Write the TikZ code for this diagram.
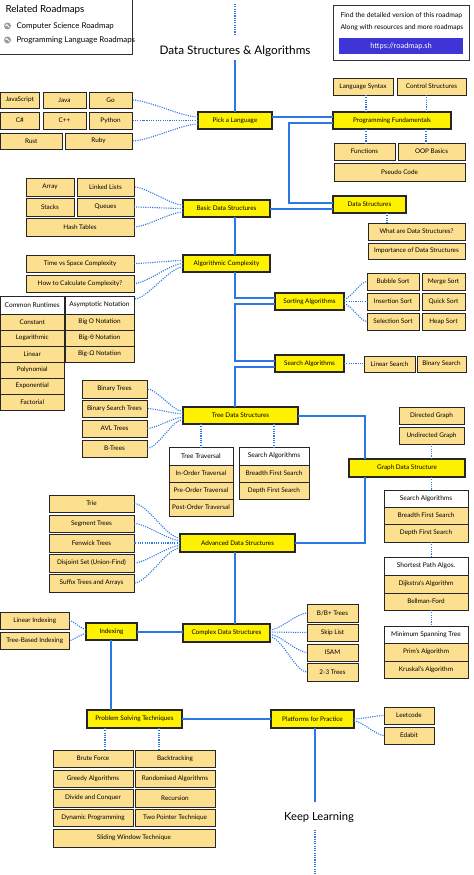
\documentclass[tikz,border=0pt]{standalone}
\usepackage{fontspec}
\setmainfont{Lato}
\definecolor{topicy}{HTML}{FFF200}
\definecolor{leafy}{HTML}{FDE08F}
\definecolor{lineb}{HTML}{2B78E4}
\definecolor{btnc}{HTML}{3F34D6}
\definecolor{iconc}{HTML}{9A9A9A}
\tikzset{
  base/.style={draw=black!85, line width=0.9pt, inner sep=0pt, outer sep=0pt, font=\fontsize{6.4}{7}\selectfont, align=center},
  topic/.style={base, fill=topicy, line width=1.1pt},
  leaf/.style={base, fill=leafy},
  ghead/.style={base, fill=white, font=\fontsize{6.6}{7.5}\selectfont},
  spine/.style={color=lineb, draw=lineb, line width=2bp},
  dotcon/.style={draw=lineb, line width=1.1pt, dash pattern=on 1.1pt off 1.2pt},
  curvy/.style={out=180, in=0, looseness=0.6},
  panel/.style={draw=black!80, line width=1pt, fill=white},
}
\newcommand\mybox[7]{\node[#1, minimum width={((#5)-(#3))*1bp}, minimum height={((#6)-(#4))*1bp}] (#2) at ({((#3)+(#5))/2},{((#4)+(#6))/2}) {#7};}
\begin{document}
\begin{tikzpicture}[x=1bp,y=-1bp]
\fill[white] (0,0) rectangle (474,875);
\useasboundingbox (0,0) rectangle (474,875);

% helper coordinates
\coordinate (sx) at (235,0);
\coordinate (gx) at (365,0);
\coordinate (ix) at (111,0);
\coordinate (kx) at (315,0);
\coordinate (dsx) at (387,0);
\coordinate (px1) at (105,0);
\coordinate (px2) at (159,0);
\coordinate (t1) at (235,4);
\coordinate (t2) at (235,36);
\coordinate (kbot) at (315,875);
\coordinate (bend1) at (289,0);
\coordinate (ty) at (0,416);
\coordinate (cy) at (0,632);

% ---------- panels ----------
\draw[panel] (-1,-1) rectangle (132,54);
\node[anchor=west, font=\fontsize{9.8}{11}\selectfont] (rel) at (2,10) {Related Roadmaps};
\node[circle, fill=iconc, minimum size=7pt, inner sep=0pt] (ic1) at (7.5,26) {};
\draw[white, line width=0.8pt] ([shift={(-2,0)}]ic1.center) -- ([shift={(-0.6,-1.4)}]ic1.center) -- ([shift={(2,1.5)}]ic1.center);
\node[anchor=west, font=\fontsize{7.9}{9}\selectfont] (rl1) at (13,26) {Computer Science Roadmap};
\node[circle, fill=iconc, minimum size=7pt, inner sep=0pt] (ic2) at (7.5,40) {};
\draw[white, line width=0.8pt] ([shift={(-2,0)}]ic2.center) -- ([shift={(-0.6,-1.4)}]ic2.center) -- ([shift={(2,1.5)}]ic2.center);
\node[anchor=west, font=\fontsize{7.9}{9}\selectfont] (rl2) at (13,40) {Programming Language Roadmaps};

\draw[panel] (333,5) rectangle (469,60);
\node[anchor=west, font=\fontsize{6.8}{8}\selectfont] (inf1) at (337,16) {Find the detailed version of this roadmap};
\node[anchor=west, font=\fontsize{6.8}{8}\selectfont] (inf2) at (337,28) {Along with resources and more roadmaps};
\mybox{base, fill=btnc, draw=none, text=white, font=\fontsize{7.5}{8}\selectfont}{btn}{339}{38}{463}{54}{https://roadmap.sh}

% ---------- titles ----------
\node[font=\fontsize{11.8}{13}\selectfont] (title) at (235,51) {Data Structures \& Algorithms};
\node[font=\fontsize{11.2}{13}\selectfont] (kl) at (319,817) {Keep Learning};

% ---------- topics ----------
\mybox{topic}{pick}{198}{112}{272}{129}{Pick a Language}
\mybox{topic}{pf}{333}{112}{451}{129}{Programming Fundamentals}
\mybox{topic}{ds}{333}{196}{406}{213}{Data Structures}
\mybox{topic}{bds}{183}{200}{270}{217}{Basic Data Structures}
\mybox{topic}{ac}{183}{255}{270}{272}{Algorithmic Complexity}
\mybox{topic}{sort}{275}{293}{344}{310}{Sorting Algorithms}
\mybox{topic}{srch}{275}{355}{344}{372}{Search Algorithms}
\mybox{topic}{tree}{183}{407}{298}{424}{Tree Data Structures}
\mybox{topic}{graph}{349}{459}{465}{477}{Graph Data Structure}
\mybox{topic}{adv}{180}{534}{295}{552}{Advanced Data Structures}
\mybox{topic}{cds}{183}{624}{270}{642}{Complex Data Structures}
\mybox{topic}{idx}{86}{623}{137}{640}{Indexing}
\mybox{topic}{pst}{87}{710}{182}{728}{Problem Solving Techniques}
\mybox{topic}{plat}{271}{710}{354}{728}{Platforms for Practice}

% ---------- spine ----------
\draw[dotcon] (t1) -- (t2);
\draw[spine] (title.south -| sx) -- (pick.north -| sx);
\draw[spine] ([yshift=4bp]pick.east) -- ([yshift=4bp]pick.east -| pf.west);
\draw[spine] ([yshift=-2bp]pf.west) -| ([yshift=2bp]ds.west -| bend1) -- ([yshift=2bp]ds.west);
\draw[spine] ([yshift=-4bp]ds.west) -- ([yshift=-4bp]ds.west -| bds.east);
\draw[spine] (bds.south -| sx) -- (ac.north -| sx);
\draw[spine] (ac.south -| sx) |- ([yshift=3.5bp]sort.west);
\draw[spine] ([yshift=-2.5bp]sort.west) -| ([yshift=2.5bp]srch.west -| sx) -- ([yshift=2.5bp]srch.west);
\draw[spine] ([yshift=-3.5bp]srch.west) -| (tree.north -| sx);
\draw[spine] (tree.east |- ty) -| (graph.north -| gx);
\draw[spine] (graph.south -| gx) |- (adv.east);
\draw[spine] (adv.south -| sx) -- (cds.north -| sx);
\draw[spine] (idx.east |- cy) -- (cds.west |- cy);
\draw[spine] (idx.south -| ix) -- (pst.north -| ix);
\draw[spine] (pst.east) -- (pst.east -| plat.west);
\draw[spine] (plat.south -| kx) -- ([yshift=6bp]kl.north -| kx);
\draw[dotcon] ([yshift=-4bp]kl.south -| kx) -- (kbot);

% ---------- languages ----------
\mybox{leaf}{js}{0.5}{92}{39}{108}{JavaScript}
\mybox{leaf}{java}{43}{92}{86}{108}{Java}
\mybox{leaf}{go}{89}{92}{132}{108}{Go}
\mybox{leaf}{csharp}{0.5}{112}{39}{129}{C\#}
\mybox{leaf}{cpp}{43}{112}{86}{129}{C++}
\mybox{leaf}{py}{89}{112}{132}{129}{Python}
\mybox{leaf}{rust}{0.5}{133}{62}{149}{Rust}
\mybox{leaf}{ruby}{65}{133}{132}{149}{Ruby}
\draw[dotcon] ([yshift=3.5bp]pick.west) to[curvy] (go.east);
\draw[dotcon] (pick.west) to[curvy] (py.east);
\draw[dotcon] ([yshift=-3.5bp]pick.west) to[curvy] (ruby.east);

% ---------- programming fundamentals ----------
\mybox{leaf}{ls}{333}{78}{393}{95}{Language Syntax}
\mybox{leaf}{cs}{397}{78}{466}{95}{Control Structures}
\mybox{leaf}{fn}{334}{143}{395}{160}{Functions}
\mybox{leaf}{oop}{398}{143}{465}{160}{OOP Basics}
\mybox{leaf}{pseudo}{334}{163}{465}{181}{Pseudo Code}
\draw[dotcon] ([xshift=3bp]ls.south) -- ([xshift=3bp]ls.south |- pf.north);
\draw[dotcon] ([xshift=-5bp]cs.south) -- ([xshift=-5bp]cs.south |- pf.north);
\draw[dotcon] ([xshift=1.5bp]fn.north |- pf.south) -- ([xshift=1.5bp]fn.north);
\draw[dotcon] ([xshift=-5.5bp]oop.north |- pf.south) -- ([xshift=-5.5bp]oop.north);

% ---------- data structures ----------
\mybox{leaf}{what}{368}{223}{465}{240}{What are Data Structures?}
\mybox{leaf}{imp}{368}{243}{465}{259}{Importance of Data Structures}
\draw[dotcon] (ds.south -| dsx) -- (what.north -| dsx);

% ---------- basic data structures ----------
\mybox{leaf}{array}{26}{178}{74}{196}{Array}
\mybox{leaf}{ll}{77}{178}{134}{196}{Linked Lists}
\mybox{leaf}{stacks}{26}{198}{74}{216}{Stacks}
\mybox{leaf}{queues}{77}{198}{134}{216}{Queues}
\mybox{leaf}{hash}{26}{218}{134}{236}{Hash Tables}
\draw[dotcon] ([yshift=3.5bp]bds.west) to[curvy] (ll.east);
\draw[dotcon] (bds.west) to[curvy] (queues.east);
\draw[dotcon] ([yshift=-3.5bp]bds.west) to[curvy] (hash.east);

% ---------- algorithmic complexity ----------
\mybox{leaf}{tvs}{26}{255}{134}{272}{Time vs Space Complexity}
\mybox{leaf}{calc}{26}{275}{134}{292}{How to Calculate Complexity?}
\mybox{ghead}{crh}{0.5}{296}{64}{314}{Common Runtimes}
\mybox{leaf}{cr1}{0.5}{314}{64}{330}{Constant}
\mybox{leaf}{cr2}{0.5}{330}{64}{346}{Logarithmic}
\mybox{leaf}{cr3}{0.5}{346}{64}{362}{Linear}
\mybox{leaf}{cr4}{0.5}{362}{64}{378}{Polynomial}
\mybox{leaf}{cr5}{0.5}{378}{64}{394}{Exponential}
\mybox{leaf}{cr6}{0.5}{394}{64}{410}{Factorial}
\mybox{ghead}{asyh}{65}{296}{134}{314}{Asymptotic Notation}
\mybox{leaf}{as1}{65}{314}{134}{330}{Big O Notation}
\mybox{leaf}{as2}{65}{330}{134}{346}{Big-θ Notation}
\mybox{leaf}{as3}{65}{346}{134}{362}{Big-Ω Notation}
\draw[dotcon] ([yshift=3bp]ac.west) to[curvy] (tvs.east);
\draw[dotcon] (ac.west) to[curvy] (calc.east);
\draw[dotcon] ([yshift=-3.5bp]ac.west) to[curvy] ([yshift=-3bp]asyh.north east);

% ---------- sorting ----------
\mybox{leaf}{bub}{367}{273}{419}{290}{Bubble Sort}
\mybox{leaf}{mer}{422}{273}{465}{290}{Merge Sort}
\mybox{leaf}{ins}{367}{293}{419}{310}{Insertion Sort}
\mybox{leaf}{qui}{422}{293}{465}{310}{Quick Sort}
\mybox{leaf}{sel}{367}{313}{419}{330}{Selection Sort}
\mybox{leaf}{hea}{422}{313}{465}{330}{Heap Sort}
\draw[dotcon] ([yshift=2.5bp]sort.east) to[out=0,in=180,looseness=0.6] (bub.west);
\draw[dotcon] (sort.east) -- (ins.west);
\draw[dotcon] ([yshift=-2.5bp]sort.east) to[out=0,in=180,looseness=0.6] (sel.west);

% ---------- searching ----------
\mybox{leaf}{lin}{364}{356}{415}{372}{Linear Search}
\mybox{leaf}{bin}{417}{356}{466}{372}{Binary Search}
\draw[dotcon] (srch.east) -- (srch.east -| lin.west);

% ---------- trees ----------
\mybox{leaf}{bt}{82}{380}{147}{398}{Binary Trees}
\mybox{leaf}{bst}{82}{400}{147}{417}{Binary Search Trees}
\mybox{leaf}{avl}{82}{420}{147}{437}{AVL Trees}
\mybox{leaf}{btr}{82}{440}{147}{457}{B-Trees}
\draw[dotcon] ([yshift=4bp]tree.west) to[curvy] (bt.east);
\draw[dotcon] ([yshift=1.5bp]tree.west) to[curvy] (bst.east);
\draw[dotcon] ([yshift=-1.5bp]tree.west) to[curvy] (avl.east);
\draw[dotcon] ([yshift=-4bp]tree.west) to[curvy] (btr.east);
\mybox{ghead}{tth}{169}{447}{233}{465}{Tree Traversal}
\mybox{leaf}{tt1}{169}{465}{233}{482}{In-Order Traversal}
\mybox{leaf}{tt2}{169}{482}{233}{499}{Pre-Order Traversal}
\mybox{leaf}{tt3}{169}{499}{233}{516}{Post-Order Traversal}
\mybox{ghead}{tsh}{239}{447}{309}{465}{Search Algorithms}
\mybox{leaf}{ts1}{239}{465}{309}{482}{Breadth First Search}
\mybox{leaf}{ts2}{239}{482}{309}{499}{Depth First Search}
\draw[dotcon] (tree.south -| tth.north) -- (tth.north);
\draw[dotcon] (tree.south -| tsh.north) -- (tsh.north);

% ---------- graphs ----------
\mybox{leaf}{dg}{399}{407}{464}{424}{Directed Graph}
\mybox{leaf}{ug}{399}{427}{464}{444}{Undirected Graph}
\mybox{ghead}{gsh}{384}{490}{468}{507}{Search Algorithms}
\mybox{leaf}{gs1}{384}{507}{468}{524}{Breadth First Search}
\mybox{leaf}{gs2}{384}{524}{468}{542}{Depth First Search}
\mybox{ghead}{sph}{384}{557}{468}{575}{Shortest Path Algos.}
\mybox{leaf}{sp1}{384}{575}{468}{593}{Dijkstra's Algorithm}
\mybox{leaf}{sp2}{384}{593}{468}{610}{Bellman-Ford}
\mybox{ghead}{mth}{384}{626}{468}{643}{Minimum Spanning Tree}
\mybox{leaf}{mt1}{384}{643}{468}{661}{Prim's Algorithm}
\mybox{leaf}{mt2}{384}{661}{468}{678}{Kruskal's Algorithm}
\draw[dotcon] (ug.south) -- (ug.south |- graph.north);
\draw[dotcon] (graph.south -| ug.south) -- (gsh.north -| ug.south);
\draw[dotcon] (gs2.south -| ug.south) -- (sph.north -| ug.south);
\draw[dotcon] (sp2.south -| ug.south) -- (mth.north -| ug.south);

% ---------- advanced ----------
\mybox{leaf}{trie}{49}{495}{134}{512}{Trie}
\mybox{leaf}{seg}{49}{515}{134}{532}{Segment Trees}
\mybox{leaf}{fen}{49}{534}{134}{552}{Fenwick Trees}
\mybox{leaf}{dsu}{49}{554}{134}{572}{Disjoint Set (Union-Find)}
\mybox{leaf}{suf}{49}{574}{134}{592}{Suffix Trees and Arrays}
\draw[dotcon] ([yshift=5bp]adv.west) to[curvy] (trie.east);
\draw[dotcon] ([yshift=2.5bp]adv.west) to[curvy] (seg.east);
\draw[dotcon] (adv.west) -- (fen.east);
\draw[dotcon] ([yshift=-2.5bp]adv.west) to[curvy] (dsu.east);
\draw[dotcon] ([yshift=-5bp]adv.west) to[curvy] (suf.east);

% ---------- complex ----------
\mybox{leaf}{bbt}{307}{604}{358}{622}{B/B+ Trees}
\mybox{leaf}{skp}{307}{624}{358}{641}{Skip List}
\mybox{leaf}{isam}{307}{644}{358}{661}{ISAM}
\mybox{leaf}{t23}{307}{663}{358}{681}{2-3 Trees}
\draw[dotcon] ([yshift=3bp]cds.east) to[out=0,in=180,looseness=0.6] (bbt.west);
\draw[dotcon] ([yshift=1bp]cds.east) -- (skp.west);
\draw[dotcon] ([yshift=-1.5bp]cds.east) to[out=0,in=180,looseness=0.6] (isam.west);
\draw[dotcon] ([yshift=-4bp]cds.east) to[out=0,in=180,looseness=0.6] (t23.west);

% ---------- indexing ----------
\mybox{leaf}{li}{0.5}{612}{69}{629}{Linear Indexing}
\mybox{leaf}{tbi}{0.5}{632}{69}{649}{Tree-Based Indexing}
\draw[dotcon] ([yshift=2bp]idx.west) to[curvy] (li.east);
\draw[dotcon] ([yshift=-2bp]idx.west) to[curvy] (tbi.east);

% ---------- platforms ----------
\mybox{leaf}{leet}{384}{707}{434}{724}{Leetcode}
\mybox{leaf}{edb}{384}{727}{434}{744}{Edabit}
\draw[dotcon] (plat.east) to[out=0,in=180,looseness=0.6] (leet.west);
\draw[dotcon] ([yshift=-2bp]plat.east) to[out=0,in=180,looseness=0.6] (edb.west);

% ---------- problem solving ----------
\mybox{leaf}{bf}{53}{750}{133}{767}{Brute Force}
\mybox{leaf}{bk}{135}{750}{215}{767}{Backtracking}
\mybox{leaf}{gr}{53}{770}{133}{787}{Greedy Algorithms}
\mybox{leaf}{ra}{135}{770}{215}{787}{Randomised Algorithms}
\mybox{leaf}{dc}{53}{789}{133}{807}{Divide and Conquer}
\mybox{leaf}{rc}{135}{789}{215}{807}{Recursion}
\mybox{leaf}{dp}{53}{809}{133}{826}{Dynamic Programming}
\mybox{leaf}{tp}{135}{809}{215}{826}{Two Pointer Technique}
\mybox{leaf}{sw}{53}{829}{215}{847}{Sliding Window Technique}
\draw[dotcon] (pst.south -| px1) -- (bf.north -| px1);
\draw[dotcon] (pst.south -| px2) -- (bk.north -| px2);
\end{tikzpicture}
\end{document}
